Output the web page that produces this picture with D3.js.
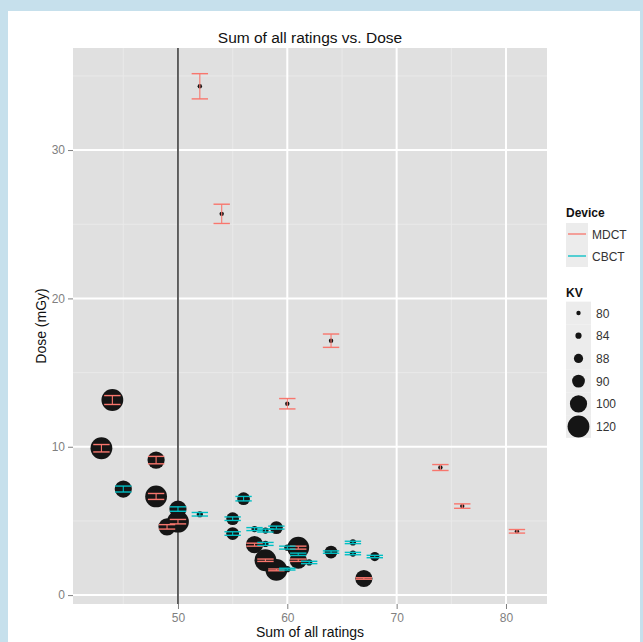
<!DOCTYPE html>
<html><head><meta charset="utf-8">
<script src="https://cdn.jsdelivr.net/npm/d3@7"></script>
<style>body{margin:0;background:#fff}svg{display:block}text{font-family:"Liberation Sans",Arial,sans-serif}</style>
</head><body>
<svg id="c" width="643" height="642"></svg>
<script>
// ---- data ----
const devices = ["MDCT", "CBCT"];
const kvLevels = [80, 84, 88, 90, 100, 120];
const xTicks = [50, 60, 70, 80];
const yTicks = [0, 10, 20, 30];

const mdctRatings = [52, 54, 64, 60, 74, 76, 81, 44, 43, 48, 48, 50, 49, 57, 58, 59, 61, 61, 67];
const mdctDose    = [34.3, 25.7, 17.15, 12.9, 8.6, 6.0, 4.3, 13.15, 9.9, 9.1, 6.65, 4.95, 4.6, 3.4, 2.35, 1.7, 3.2, 2.35, 1.12];
const mdctErr     = [0.85, 0.65, 0.45, 0.35, 0.2, 0.15, 0.12, 0.3, 0.25, 0.25, 0.2, 0.15, 0.15, 0.1, 0.08, 0.06, 0.1, 0.08, 0.05];
const mdctKV      = [80, 80, 80, 80, 80, 80, 80, 120, 120, 100, 120, 120, 100, 100, 120, 120, 120, 100, 100];

const cbctRatings = [45, 50, 52, 56, 55, 55, 57, 58, 59, 58, 60, 61, 62, 60, 64, 66, 66, 68];
const cbctDose    = [7.15, 5.8, 5.45, 6.5, 5.15, 4.15, 4.45, 4.35, 4.55, 3.45, 3.2, 2.75, 2.2, 1.75, 2.9, 3.55, 2.8, 2.6];
const cbctErr     = [0.2, 0.15, 0.12, 0.15, 0.12, 0.12, 0.1, 0.1, 0.1, 0.1, 0.1, 0.08, 0.08, 0.06, 0.08, 0.08, 0.08, 0.08];
const cbctKV      = [100, 100, 84, 90, 90, 90, 84, 84, 90, 84, 84, 84, 84, 84, 90, 84, 84, 88];

const title = "Sum of all ratings vs. Dose";
const xLabel = "Sum of all ratings";
const yLabel = "Dose (mGy)";

// ---- build rows ----
const rows = [];
mdctRatings.forEach((r, i) => rows.push({dev: "MDCT", x: r, y: mdctDose[i], e: mdctErr[i], kv: mdctKV[i]}));
cbctRatings.forEach((r, i) => rows.push({dev: "CBCT", x: r, y: cbctDose[i], e: cbctErr[i], kv: cbctKV[i]}));

// ---- layout ----
const svg = d3.select("#c");
const P = {l: 73, r: 547, t: 48, b: 604};

// frame
svg.append("rect").attr("x", 0).attr("y", 0).attr("width", 643).attr("height", 642).attr("fill", "#c6e0ec");
svg.append("rect").attr("x", 8).attr("y", 11).attr("width", 632).attr("height", 640).attr("fill", "#ffffff");

const x = d3.scaleLinear().domain([40.4, 83.75]).range([P.l, P.r]);
const y = d3.scaleLinear().domain([-0.6, 36.88]).range([P.b, P.t]);
const color = d3.scaleOrdinal().domain(devices).range(["#F8766D", "#00BFC4"]);
const rad = d3.scaleOrdinal().domain(kvLevels).range([2.2, 3.1, 4.6, 6.4, 8.6, 10.9]);

// panel
svg.append("rect").attr("x", P.l).attr("y", P.t).attr("width", P.r - P.l).attr("height", P.b - P.t).attr("fill", "#e0e0e0");

const grid = svg.append("g");
const xMinor = [45, 55, 65, 75];
const yMinor = [5, 15, 25, 35];
grid.selectAll(".xm").data(xMinor).join("line")
  .attr("x1", d => x(d)).attr("x2", d => x(d)).attr("y1", P.t).attr("y2", P.b)
  .attr("stroke", "#e9e9e9").attr("stroke-width", 1);
grid.selectAll(".ym").data(yMinor).join("line")
  .attr("y1", d => y(d)).attr("y2", d => y(d)).attr("x1", P.l).attr("x2", P.r)
  .attr("stroke", "#e9e9e9").attr("stroke-width", 1);
grid.selectAll(".xg").data(xTicks).join("line")
  .attr("x1", d => x(d)).attr("x2", d => x(d)).attr("y1", P.t).attr("y2", P.b)
  .attr("stroke", "#ffffff").attr("stroke-width", 2);
grid.selectAll(".yg").data(yTicks).join("line")
  .attr("y1", d => y(d)).attr("y2", d => y(d)).attr("x1", P.l).attr("x2", P.r)
  .attr("stroke", "#ffffff").attr("stroke-width", 2);

// vline at 50
svg.append("line").attr("x1", x(50)).attr("x2", x(50)).attr("y1", P.t).attr("y2", P.b)
  .attr("stroke", "#3a3a3a").attr("stroke-width", 1.6);

// points
svg.append("g").selectAll("circle").data(rows).join("circle")
  .attr("cx", d => x(d.x)).attr("cy", d => y(d.y)).attr("r", d => rad(d.kv))
  .attr("fill", "#151515");

// error bars
const half = 0.75;
const eb = svg.append("g").selectAll("g").data(rows).join("g")
  .attr("stroke", d => color(d.dev)).attr("stroke-width", 1.4).attr("fill", "none");
eb.append("line").attr("x1", d => x(d.x)).attr("x2", d => x(d.x))
  .attr("y1", d => y(d.y + d.e)).attr("y2", d => y(d.y - d.e)).attr("stroke-width", 1.1);
eb.append("line").attr("x1", d => x(d.x - half)).attr("x2", d => x(d.x + half))
  .attr("y1", d => y(d.y + d.e)).attr("y2", d => y(d.y + d.e));
eb.append("line").attr("x1", d => x(d.x - half)).attr("x2", d => x(d.x + half))
  .attr("y1", d => y(d.y - d.e)).attr("y2", d => y(d.y - d.e));

// axes
const axCol = "#7f7f7f";
const gx = svg.append("g").attr("transform", `translate(0,${P.b})`)
  .call(d3.axisBottom(x).tickValues(xTicks).tickSize(5).tickPadding(4));
const gy = svg.append("g").attr("transform", `translate(${P.l},0)`)
  .call(d3.axisLeft(y).tickValues(yTicks).tickSize(5).tickPadding(3));
[gx, gy].forEach(g => {
  g.select(".domain").remove();
  g.selectAll(".tick line").attr("stroke", axCol).attr("stroke-width", 1);
  g.selectAll(".tick text").attr("fill", axCol).style("font-size", "12px").style("font-family", "Liberation Sans, Arial, sans-serif");
});

// titles
svg.append("text").attr("x", (P.l + P.r) / 2).attr("y", 43).attr("text-anchor", "middle")
  .style("font-size", "15.5px").attr("fill", "#111").text(title);
svg.append("text").attr("x", (P.l + P.r) / 2).attr("y", 637).attr("text-anchor", "middle")
  .style("font-size", "14px").attr("fill", "#111").text(xLabel);
svg.append("text").attr("transform", `translate(46,${(P.t + P.b) / 2}) rotate(-90)`).attr("text-anchor", "middle")
  .style("font-size", "14px").attr("fill", "#111").text(yLabel);

// legend: Device
const lg = svg.append("g");
const lx = 566;
lg.append("text").attr("x", lx).attr("y", 217).style("font-size", "12px").style("font-weight", "bold").attr("fill", "#111").text("Device");
devices.forEach((dv, i) => {
  const cy = 234 + i * 22;
  lg.append("rect").attr("x", lx).attr("y", cy - 11).attr("width", 22).attr("height", 22).attr("fill", "#ececec");
  lg.append("line").attr("x1", lx + 2).attr("x2", lx + 20).attr("y1", cy).attr("y2", cy)
    .attr("stroke", color(dv)).attr("stroke-width", 1.3);
  lg.append("text").attr("x", lx + 26).attr("y", cy + 4.5).style("font-size", "12px").attr("fill", "#333").text(dv);
});

// legend: KV
lg.append("text").attr("x", lx).attr("y", 297).style("font-size", "12px").style("font-weight", "bold").attr("fill", "#111").text("KV");
kvLevels.forEach((k, i) => {
  const cy = 313 + i * 22.7;
  lg.append("rect").attr("x", lx).attr("y", cy - 11.35).attr("width", 25).attr("height", 22.7).attr("fill", "#ececec");
  lg.append("circle").attr("cx", lx + 12.5).attr("cy", cy).attr("r", rad(k)).attr("fill", "#151515");
  lg.append("text").attr("x", lx + 30).attr("y", cy + 4.5).style("font-size", "12px").attr("fill", "#333").text(k);
});
</script>
</body></html>
